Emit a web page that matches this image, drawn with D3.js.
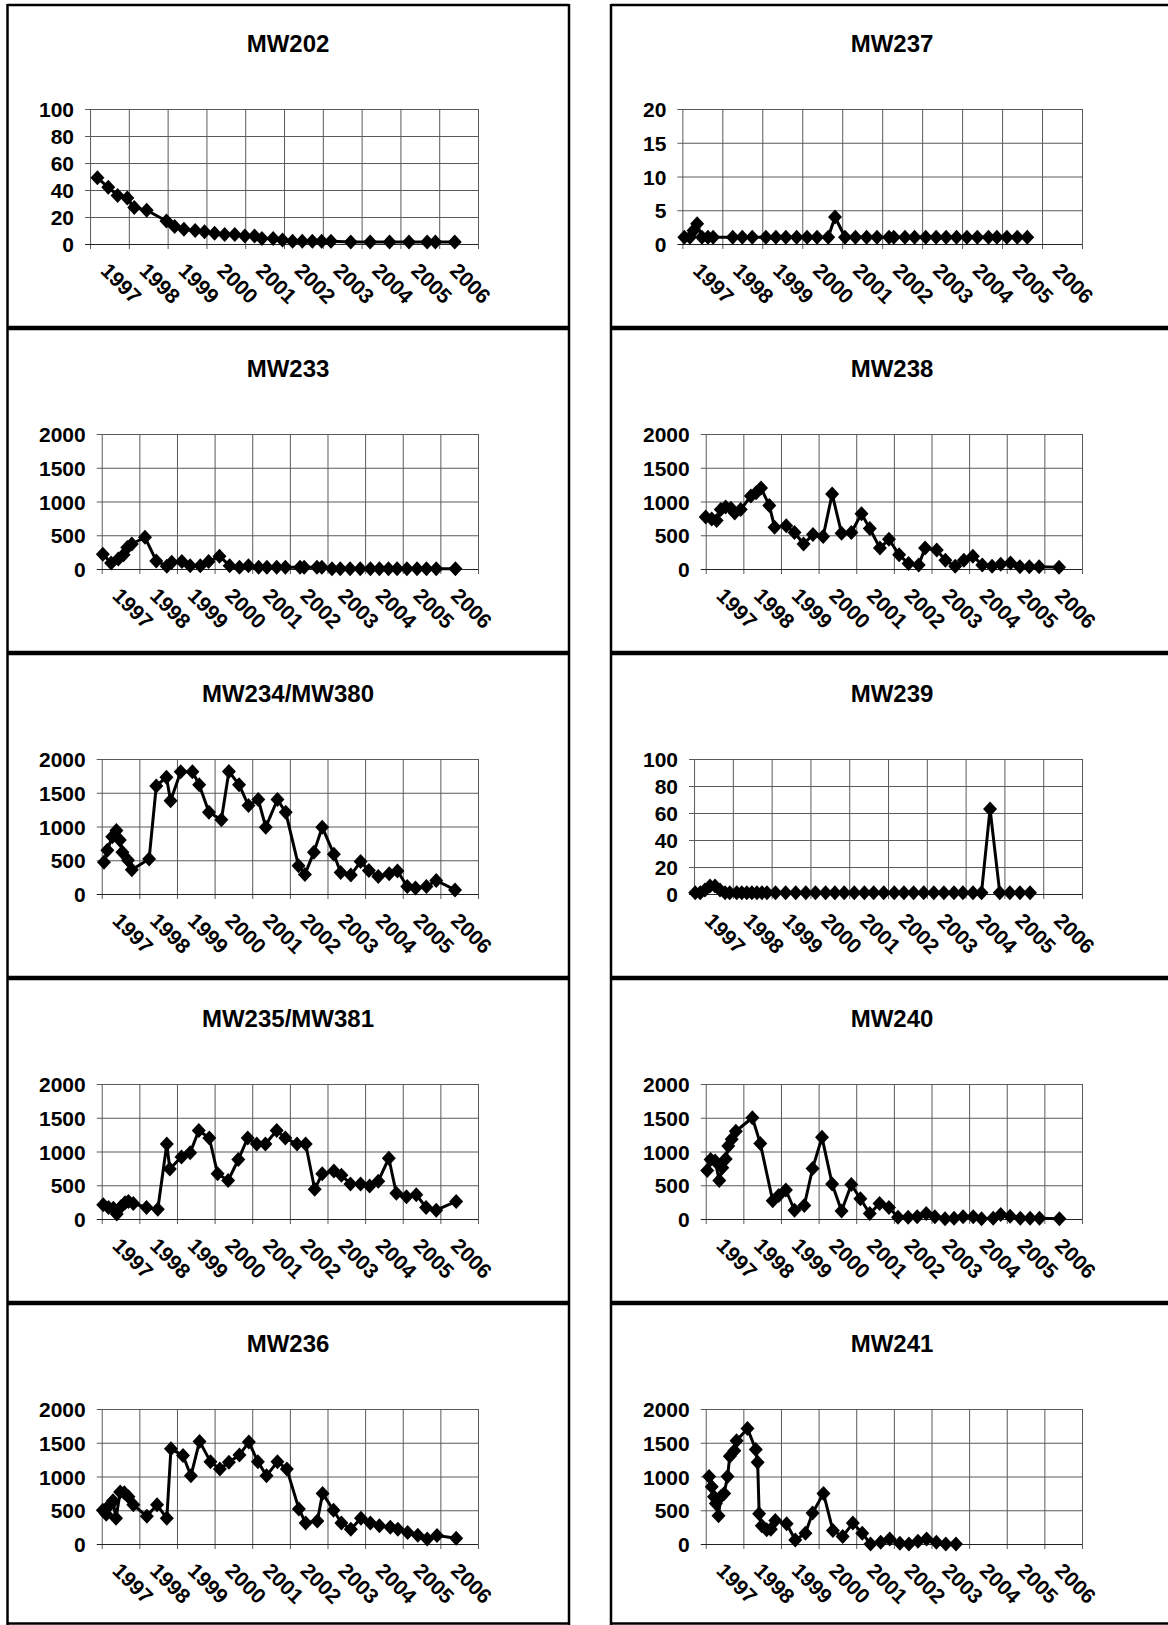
<!DOCTYPE html>
<html>
<head>
<meta charset="utf-8">
<script src="https://cdn.jsdelivr.net/npm/d3@7"></script>
<style>
  body { margin: 0; background: #fff; }
  svg { display: block; }
  .title { font: bold 24px "Liberation Sans", Arial, sans-serif; fill: #000; }
  .axis text { font: bold 21px "Liberation Sans", Arial, sans-serif; fill: #000; }
</style>
</head>
<body>
<div id="chart"></div>
<script>
// Data: sample dates in decimal years, one value per sample.

var years = [1997, 1998, 1999, 2000, 2001, 2002, 2003, 2004, 2005, 2006];

var mw202T = [1997.19, 1997.47, 1997.71, 1997.96, 1998.14, 1998.46, 1998.97, 1999.18, 1999.42, 1999.71,
              1999.95, 2000.21, 2000.47, 2000.73, 2000.99, 2001.24, 2001.43, 2001.72, 2001.96, 2002.22,
              2002.47, 2002.73, 2002.97, 2003.21, 2003.72, 2004.22, 2004.72, 2005.22, 2005.69, 2005.90, 2006.40];
var mw202V = [49, 42, 36, 34, 27, 25, 17, 13, 11, 10,
              9, 8, 7, 7, 6, 6, 4, 4, 3, 2,
              2, 2, 2, 2, 1.5, 1.5, 1.5, 1.5, 1.5, 1.5, 1.5];

var mw237T = [1997.05, 1997.19, 1997.28, 1997.37, 1997.49, 1997.64, 1997.77, 1998.26, 1998.50, 1998.75,
              1999.09, 1999.34, 1999.59, 1999.86, 2000.12, 2000.37, 2000.65, 2000.82, 2001.07, 2001.33,
              2001.61, 2001.87, 2002.17, 2002.29, 2002.57, 2002.81, 2003.09, 2003.35, 2003.60, 2003.86,
              2004.12, 2004.38, 2004.66, 2004.87, 2005.12, 2005.38, 2005.63];
var mw237V = [1, 1, 2, 3, 1, 1, 1, 1, 1, 1,
              1, 1, 1, 1, 1, 1, 1, 4, 1, 1,
              1, 1, 1, 1, 1, 1, 1, 1, 1, 1,
              1, 1, 1, 1, 1, 1, 1];

var mw233T = [1997.03, 1997.25, 1997.44, 1997.58, 1997.68, 1997.80, 1998.15, 1998.45, 1998.73, 1998.86,
              1999.13, 1999.35, 1999.62, 1999.84, 2000.13, 2000.40, 2000.66, 2000.90, 2001.17, 2001.39,
              2001.65, 2001.88, 2002.27, 2002.38, 2002.72, 2002.85, 2003.12, 2003.34, 2003.60, 2003.87,
              2004.14, 2004.38, 2004.62, 2004.85, 2005.11, 2005.38, 2005.63, 2005.89, 2006.40];
var mw233V = [220, 90, 150, 210, 320, 370, 470, 120, 40, 100,
              110, 50, 50, 110, 190, 50, 25, 50, 25, 25,
              25, 25, 25, 25, 25, 25, 5, 5, 5, 5,
              5, 5, 5, 5, 5, 5, 5, 5, 5];

var mw238T = [1997.00, 1997.16, 1997.29, 1997.40, 1997.53, 1997.67, 1997.77, 1997.93, 1998.20, 1998.34,
              1998.47, 1998.69, 1998.83, 1999.14, 1999.36, 1999.60, 1999.85, 2000.12, 2000.36, 2000.61,
              2000.87, 2001.14, 2001.36, 2001.63, 2001.87, 2002.14, 2002.39, 2002.66, 2002.83, 2003.14,
              2003.37, 2003.63, 2003.86, 2004.10, 2004.35, 2004.61, 2004.84, 2005.10, 2005.35, 2005.60,
              2005.86, 2006.39];
var mw238V = [770, 740, 720, 880, 920, 900, 830, 880, 1080, 1130,
              1200, 940, 620, 640, 540, 370, 510, 480, 1110, 530,
              540, 820, 600, 310, 440, 210, 80, 60, 310, 280,
              130, 40, 130, 190, 60, 40, 70, 90, 35, 35,
              35, 25];

var mw234T = [1997.06, 1997.15, 1997.28, 1997.39, 1997.48, 1997.55, 1997.70, 1997.80, 1998.26, 1998.45,
              1998.72, 1998.83, 1999.10, 1999.41, 1999.59, 1999.85, 2000.18, 2000.38, 2000.65, 2000.90,
              2001.16, 2001.36, 2001.67, 2001.89, 2002.23, 2002.40, 2002.64, 2002.86, 2003.17, 2003.35,
              2003.62, 2003.88, 2004.10, 2004.35, 2004.64, 2004.86, 2005.12, 2005.34, 2005.63, 2005.89,
              2006.39];
var mw234V = [470, 650, 850, 940, 800, 620, 500, 360, 520, 1600,
              1730, 1380, 1810, 1810, 1620, 1210, 1100, 1815, 1620, 1310,
              1400, 990, 1400, 1210, 420, 290, 620, 990, 590, 320,
              280, 480, 350, 260, 300, 340, 110, 90, 110, 200,
              60];

var mw239T = [1997.03, 1997.16, 1997.28, 1997.41, 1997.54, 1997.67, 1997.80, 1997.92, 1998.10, 1998.23,
              1998.36, 1998.49, 1998.62, 1998.75, 1998.88, 1999.10, 1999.36, 1999.62, 1999.88, 2000.13,
              2000.39, 2000.63, 2000.87, 2001.13, 2001.39, 2001.63, 2001.89, 2002.16, 2002.41, 2002.66,
              2002.92, 2003.18, 2003.44, 2003.70, 2003.93, 2004.19, 2004.41, 2004.63, 2004.88, 2005.14,
              2005.40, 2005.66];
var mw239V = [1, 1, 3, 6, 6, 3, 1, 1, 1, 1,
              1, 1, 1, 1, 1, 1, 1, 1, 1, 1,
              1, 1, 1, 1, 1, 1, 1, 1, 1, 1,
              1, 1, 1, 1, 1, 1, 1, 63, 1, 1,
              1, 1];

var mw235T = [1997.04, 1997.18, 1997.31, 1997.40, 1997.51, 1997.62, 1997.71, 1997.84, 1998.19, 1998.49,
              1998.73, 1998.81, 1999.12, 1999.35, 1999.58, 1999.86, 2000.08, 2000.36, 2000.63, 2000.88,
              2001.12, 2001.35, 2001.65, 2001.88, 2002.19, 2002.42, 2002.66, 2002.86, 2003.17, 2003.37,
              2003.61, 2003.88, 2004.12, 2004.35, 2004.63, 2004.83, 2005.10, 2005.36, 2005.62, 2005.89,
              2006.42];
var mw235V = [210, 170, 160, 75, 180, 240, 260, 230, 170, 145,
              1110, 740, 920, 980, 1310, 1200, 670, 570, 880, 1200,
              1110, 1110, 1310, 1200, 1110, 1110, 440, 670, 710, 650,
              520, 520, 490, 560, 900, 380, 330, 360, 170, 130,
              260];

var mw240T = [1997.04, 1997.13, 1997.25, 1997.36, 1997.44, 1997.53, 1997.60, 1997.69, 1997.80, 1998.24,
              1998.45, 1998.78, 1998.94, 1999.13, 1999.36, 1999.62, 1999.84, 2000.09, 2000.36, 2000.61,
              2000.87, 2001.11, 2001.36, 2001.62, 2001.87, 2002.11, 2002.38, 2002.62, 2002.86, 2003.09,
              2003.36, 2003.60, 2003.84, 2004.11, 2004.33, 2004.64, 2004.84, 2005.09, 2005.36, 2005.62,
              2005.87, 2006.40];
var mw240V = [720, 880, 860, 570, 760, 890, 1080, 1180, 1300, 1500,
              1120, 270, 350, 430, 130, 200, 750, 1210, 520, 120,
              510, 300, 80, 230, 170, 25, 25, 35, 80, 35,
              5, 10, 35, 35, 5, 10, 65, 40, 10, 10,
              10, 5];

var mw236T = [1997.03, 1997.12, 1997.22, 1997.30, 1997.38, 1997.49, 1997.60, 1997.71, 1997.84, 1998.20,
              1998.47, 1998.73, 1998.84, 1999.16, 1999.37, 1999.60, 1999.89, 2000.14, 2000.38, 2000.66,
              2000.91, 2001.15, 2001.38, 2001.67, 2001.92, 2002.24, 2002.42, 2002.73, 2002.87, 2003.16,
              2003.37, 2003.62, 2003.89, 2004.14, 2004.38, 2004.67, 2004.87, 2005.13, 2005.40, 2005.65,
              2005.91, 2006.42];
var mw236V = [500, 440, 580, 640, 380, 770, 760, 700, 580, 410,
              580, 380, 1410, 1310, 1010, 1520, 1220, 1110, 1210, 1320,
              1510, 1220, 1010, 1220, 1110, 520, 310, 340, 750, 500,
              310, 220, 380, 310, 270, 250, 220, 170, 130, 75,
              125, 85];

var mw241T = [1997.09, 1997.16, 1997.22, 1997.27, 1997.34, 1997.40, 1997.49, 1997.58, 1997.64, 1997.76,
              1997.82, 1998.11, 1998.33, 1998.38, 1998.42, 1998.49, 1998.62, 1998.73, 1998.85, 1999.15,
              1999.38, 1999.65, 1999.84, 2000.13, 2000.38, 2000.64, 2000.91, 2001.16, 2001.38, 2001.65,
              2001.89, 2002.16, 2002.40, 2002.64, 2002.87, 2003.13, 2003.38, 2003.65];
var mw241V = [1000, 850, 700, 600, 420, 700, 750, 1000, 1300, 1380,
              1530, 1710, 1400, 1210, 450, 270, 210, 220, 350, 300,
              60, 160, 460, 750, 200, 110, 310, 160, 0, 25,
              75, 10, 0, 40, 75, 25, 0, 0];

var ticks100 = [0, 20, 40, 60, 80, 100];
var ticks20 = [0, 5, 10, 15, 20];
var ticks2000 = [0, 500, 1000, 1500, 2000];

var panels = [
  { name: "MW202",       t: mw202T, v: mw202V, yTicks: ticks100,  col: 0, row: 0 },
  { name: "MW237",       t: mw237T, v: mw237V, yTicks: ticks20,   col: 1, row: 0 },
  { name: "MW233",       t: mw233T, v: mw233V, yTicks: ticks2000, col: 0, row: 1 },
  { name: "MW238",       t: mw238T, v: mw238V, yTicks: ticks2000, col: 1, row: 1 },
  { name: "MW234/MW380", t: mw234T, v: mw234V, yTicks: ticks2000, col: 0, row: 2 },
  { name: "MW239",       t: mw239T, v: mw239V, yTicks: ticks100,  col: 1, row: 2 },
  { name: "MW235/MW381", t: mw235T, v: mw235V, yTicks: ticks2000, col: 0, row: 3 },
  { name: "MW240",       t: mw240T, v: mw240V, yTicks: ticks2000, col: 1, row: 3 },
  { name: "MW236",       t: mw236T, v: mw236V, yTicks: ticks2000, col: 0, row: 4 },
  { name: "MW241",       t: mw241T, v: mw241V, yTicks: ticks2000, col: 1, row: 4 }
];

// Sheet layout
var W = 1168, H = 1625;
var colX = [7, 611], colW = 562;
var rowY = [3, 328, 653, 978, 1303];
var plotTop = 106, plotBottom = 241, plotRight = 471;
var labelStart = 32, labelGap = 16;
var gridColor = "#5a5a5a";

var svg = d3.select("#chart").append("svg")
    .attr("width", W)
    .attr("height", H);

svg.append("rect")
    .attr("width", W)
    .attr("height", H)
    .attr("fill", "#fff");

// Measure the widest tick label so the plot area starts where Excel put it
var measure = svg.append("text").attr("class", "axis").append("tspan")
    .style("font", "bold 21px 'Liberation Sans', Arial, sans-serif");
function labelWidth(ticks) {
  var w = 0;
  ticks.forEach(function(d) {
    measure.text(d);
    w = Math.max(w, measure.node().getComputedTextLength());
  });
  return w;
}

var diamond = "M0,-7.5L7,0L0,7.5L-7,0Z";

panels.forEach(function(p) {
  var g = svg.append("g")
      .attr("transform", "translate(" + colX[p.col] + "," + rowY[p.row] + ")");

  var left = labelStart + labelWidth(p.yTicks) + labelGap;

  var x = d3.scaleLinear()
      .domain([1997, 2007])
      .range([left, plotRight]);

  var y = d3.scaleLinear()
      .domain([0, d3.max(p.yTicks)])
      .range([plotBottom, plotTop]);

  g.append("text")
      .attr("class", "title")
      .attr("x", colW / 2)
      .attr("y", 49)
      .attr("text-anchor", "middle")
      .text(p.name);

  // vertical gridlines, with cross tick below the axis
  var xGrid = d3.axisBottom(x)
      .tickValues(d3.range(1997, 2008))
      .tickSize(-(plotBottom - plotTop) - 5)
      .tickSizeOuter(0)
      .tickFormat("");
  g.append("g")
      .attr("transform", "translate(0," + (plotBottom + 5) + ")")
      .call(xGrid)
      .call(function(s) {
        s.select(".domain").remove();
        s.selectAll(".tick line").attr("stroke", gridColor).attr("stroke-width", 1);
      });

  // horizontal gridlines + y labels
  var yAxis = d3.axisLeft(y)
      .tickValues(p.yTicks)
      .tickSize(-(plotRight - left) - 5)
      .tickPadding(labelGap - 5)
      .tickSizeOuter(0)
      .tickFormat(d3.format("d"));
  g.append("g")
      .attr("class", "axis")
      .attr("transform", "translate(" + (left - 5) + ",0)")
      .call(yAxis)
      .call(function(s) {
        s.select(".domain").remove();
        s.selectAll(".tick line")
            .attr("stroke", function(d) { return d === 0 ? "#222" : gridColor; })
            .attr("stroke-width", 1);
        s.selectAll(".tick text").attr("dy", "0.36em");
      });

  // rotated year labels
  var xAxis = d3.axisBottom(x)
      .tickValues(years)
      .tickSize(0)
      .tickFormat(d3.format("d"));
  g.append("g")
      .attr("class", "axis")
      .attr("transform", "translate(0," + plotBottom + ")")
      .call(xAxis)
      .call(function(s) {
        s.select(".domain").remove();
        s.selectAll(".tick text")
            .attr("x", null)
            .attr("y", null)
            .attr("dy", null)
            .attr("text-anchor", "start")
            .attr("transform", "translate(9,28) rotate(45)");
      });

  var pts = p.t.map(function(t, i) { return [t, p.v[i]]; });

  var line = d3.line()
      .x(function(d) { return x(d[0]); })
      .y(function(d) { return y(d[1]); });

  g.append("path")
      .datum(pts)
      .attr("fill", "none")
      .attr("stroke", "#000")
      .attr("stroke-width", 3)
      .attr("stroke-linejoin", "round")
      .attr("d", line);

  g.selectAll(".marker")
    .data(pts)
    .enter().append("path")
      .attr("class", "marker")
      .attr("d", diamond)
      .attr("fill", "#000")
      .attr("transform", function(d) { return "translate(" + x(d[0]) + "," + y(d[1]) + ")"; });
});

measure.remove();

// Frames round the pasted charts
var frame = svg.append("g").attr("stroke", "#000").attr("fill", "none");
[[7.5, 569], [611, 1172]].forEach(function(c) {
  frame.append("line").attr("x1", c[0]).attr("x2", c[0]).attr("y1", 4).attr("y2", H).attr("stroke-width", 2.5);
  frame.append("line").attr("x1", c[1]).attr("x2", c[1]).attr("y1", 4).attr("y2", H).attr("stroke-width", 2.5);
  frame.append("line").attr("x1", c[0]).attr("x2", c[1]).attr("y1", 5).attr("y2", 5).attr("stroke-width", 2.5);
  [328, 653, 978, 1303].forEach(function(yy) {
    frame.append("line").attr("x1", c[0]).attr("x2", c[1]).attr("y1", yy).attr("y2", yy).attr("stroke-width", 4.5);
  });
  frame.append("line").attr("x1", c[0]).attr("x2", c[1]).attr("y1", H - 1.5).attr("y2", H - 1.5).attr("stroke-width", 2.5);
});
</script>
</body>
</html>
